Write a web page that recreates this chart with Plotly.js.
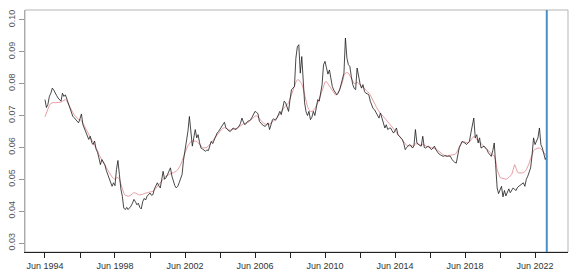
<!DOCTYPE html>
<html>
<head>
<meta charset="utf-8">
<script src="https://cdn.plot.ly/plotly-3.0.1.min.js"></script>
<style>html,body{margin:0;padding:0;background:#fff;}#chart{width:570px;height:280px;}</style>
</head>
<body>
<div id="chart"></div>
<script>
// Monthly series starting Jun 1994
const startYear = 1994;
const startMonth = 6;

const observed = [
0.0750,0.0725,0.0735,0.0760,0.0770,0.0786,0.0780,0.0768,0.0762,0.0755,0.0750,0.0745,
0.0770,0.0760,0.0765,0.0750,0.0740,0.0722,0.0710,0.0698,0.0693,0.0688,0.0684,0.0677,
0.0690,0.0705,0.0671,0.0660,0.0648,0.0640,0.0625,0.0635,0.0615,0.0609,0.0620,0.0595,
0.0585,0.0567,0.0546,0.0562,0.0555,0.0546,0.0528,0.0515,0.0505,0.0494,0.0478,0.0489,
0.0480,0.0530,0.0559,0.0515,0.0470,0.0447,0.0410,0.0405,0.0412,0.0405,0.0410,0.0416,
0.0425,0.0437,0.0430,0.0420,0.0425,0.0412,0.0407,0.0430,0.0440,0.0435,0.0447,0.0452,
0.0457,0.0450,0.0452,0.0470,0.0482,0.0489,0.0480,0.0473,0.0500,0.0525,0.0500,0.0505,
0.0515,0.0525,0.0536,0.0510,0.0494,0.0480,0.0473,0.0478,0.0490,0.0500,0.0515,0.0560,
0.0588,0.0624,0.0650,0.0697,0.0640,0.0604,0.0630,0.0656,0.0630,0.0640,0.0615,0.0598,
0.0595,0.0590,0.0588,0.0592,0.0590,0.0605,0.0619,0.0612,0.0625,0.0635,0.0645,0.0650,
0.0658,0.0666,0.0672,0.0679,0.0662,0.0656,0.0652,0.0650,0.0655,0.0661,0.0658,0.0656,
0.0662,0.0666,0.0675,0.0692,0.0680,0.0671,0.0676,0.0682,0.0684,0.0687,0.0695,0.0705,
0.0713,0.0710,0.0706,0.0682,0.0676,0.0671,0.0668,0.0666,0.0672,0.0677,0.0656,0.0670,
0.0687,0.0690,0.0685,0.0692,0.0705,0.0713,0.0703,0.0729,0.0745,0.0740,0.0725,0.0713,
0.0750,0.0781,0.0786,0.0791,0.0880,0.0916,0.0922,0.0833,0.0885,0.0810,0.0740,0.0712,
0.0700,0.0713,0.0687,0.0695,0.0713,0.0700,0.0729,0.0750,0.0745,0.0770,0.0797,0.0859,
0.0870,0.0850,0.0830,0.0843,0.0812,0.0791,0.0780,0.0770,0.0765,0.0770,0.0780,0.0797,
0.0815,0.0833,0.0943,0.0880,0.0860,0.0854,0.0823,0.0797,0.0785,0.0781,0.0849,0.0817,
0.0800,0.0786,0.0797,0.0776,0.0770,0.0768,0.0765,0.0745,0.0729,0.0722,0.0718,0.0710,
0.0700,0.0692,0.0708,0.0690,0.0677,0.0661,0.0671,0.0656,0.0660,0.0661,0.0652,0.0645,
0.0652,0.0661,0.0640,0.0635,0.0630,0.0625,0.0612,0.0593,0.0600,0.0604,0.0609,0.0605,
0.0598,0.0605,0.0656,0.0614,0.0609,0.0606,0.0604,0.0635,0.0600,0.0598,0.0602,0.0604,
0.0598,0.0593,0.0598,0.0604,0.0593,0.0585,0.0580,0.0577,0.0575,0.0572,0.0574,0.0572,
0.0572,0.0573,0.0572,0.0562,0.0556,0.0553,0.0551,0.0577,0.0600,0.0609,0.0619,0.0616,
0.0614,0.0609,0.0615,0.0619,0.0645,0.0670,0.0692,0.0630,0.0640,0.0614,0.0630,0.0598,
0.0602,0.0604,0.0598,0.0593,0.0583,0.0578,0.0572,0.0590,0.0614,0.0546,0.0473,0.0455,
0.0465,0.0478,0.0445,0.0465,0.0448,0.0460,0.0470,0.0458,0.0465,0.0473,0.0468,0.0465,
0.0475,0.0478,0.0483,0.0486,0.0489,0.0478,0.0500,0.0510,0.0522,0.0536,0.0577,0.0630,
0.0609,0.0620,0.0630,0.0661,0.0609,0.0598,0.0580,0.0562,0.0572
];

const smoothed = [
0.0696,0.0710,0.0722,0.0732,0.0738,0.0740,0.0741,0.0740,0.0740,0.0740,0.0740,0.0742,
0.0745,0.0748,0.0750,0.0745,0.0735,0.0725,0.0718,0.0710,0.0702,0.0697,0.0692,0.0688,
0.0687,0.0684,0.0676,0.0666,0.0656,0.0647,0.0638,0.0632,0.0624,0.0616,0.0610,0.0600,
0.0590,0.0578,0.0568,0.0560,0.0552,0.0544,0.0536,0.0528,0.0520,0.0513,0.0507,0.0503,
0.0500,0.0504,0.0506,0.0500,0.0485,0.0468,0.0457,0.0450,0.0447,0.0447,0.0448,0.0452,
0.0456,0.0458,0.0457,0.0454,0.0452,0.0451,0.0451,0.0453,0.0455,0.0457,0.0458,0.0459,
0.0460,0.0461,0.0462,0.0466,0.0472,0.0478,0.0484,0.0489,0.0495,0.0502,0.0506,0.0510,
0.0513,0.0516,0.0519,0.0520,0.0520,0.0522,0.0526,0.0530,0.0536,0.0545,0.0558,0.0572,
0.0583,0.0595,0.0605,0.0614,0.0618,0.0620,0.0621,0.0620,0.0619,0.0614,0.0608,0.0603,
0.0600,0.0598,0.0598,0.0600,0.0604,0.0610,0.0617,0.0623,0.0628,0.0633,0.0638,0.0644,
0.0650,0.0656,0.0660,0.0662,0.0660,0.0657,0.0655,0.0654,0.0655,0.0657,0.0658,0.0659,
0.0661,0.0664,0.0668,0.0672,0.0674,0.0675,0.0676,0.0678,0.0681,0.0685,0.0689,0.0694,
0.0698,0.0699,0.0696,0.0690,0.0684,0.0679,0.0675,0.0673,0.0672,0.0672,0.0673,0.0676,
0.0680,0.0684,0.0688,0.0693,0.0698,0.0704,0.0710,0.0718,0.0726,0.0731,0.0734,0.0740,
0.0752,0.0766,0.0778,0.0790,0.0805,0.0812,0.0812,0.0805,0.0800,0.0785,0.0765,0.0745,
0.0728,0.0718,0.0713,0.0713,0.0716,0.0722,0.0729,0.0740,0.0752,0.0765,0.0780,0.0792,
0.0805,0.0807,0.0800,0.0795,0.0790,0.0782,0.0772,0.0765,0.0765,0.0772,0.0782,0.0792,
0.0805,0.0825,0.0833,0.0835,0.0833,0.0825,0.0815,0.0807,0.0800,0.0800,0.0805,0.0802,
0.0795,0.0790,0.0790,0.0786,0.0780,0.0775,0.0770,0.0765,0.0755,0.0745,0.0736,0.0729,
0.0720,0.0712,0.0706,0.0702,0.0697,0.0690,0.0684,0.0680,0.0676,0.0670,0.0664,0.0658,
0.0652,0.0648,0.0643,0.0637,0.0631,0.0625,0.0618,0.0610,0.0606,0.0605,0.0605,0.0604,
0.0603,0.0605,0.0612,0.0612,0.0610,0.0608,0.0607,0.0610,0.0607,0.0604,0.0602,0.0601,
0.0600,0.0598,0.0598,0.0598,0.0596,0.0592,0.0588,0.0584,0.0580,0.0577,0.0575,0.0574,
0.0574,0.0575,0.0576,0.0576,0.0576,0.0578,0.0582,0.0592,0.0602,0.0610,0.0616,0.0618,
0.0617,0.0615,0.0614,0.0617,0.0624,0.0632,0.0635,0.0630,0.0625,0.0620,0.0617,0.0612,
0.0608,0.0604,0.0600,0.0596,0.0591,0.0585,0.0580,0.0576,0.0574,0.0560,0.0530,0.0515,
0.0506,0.0504,0.0502,0.0500,0.0500,0.0502,0.0506,0.0510,0.0515,0.0530,0.0546,0.0535,
0.0522,0.0520,0.0519,0.0520,0.0521,0.0524,0.0530,0.0540,0.0551,0.0565,0.0580,0.0590,
0.0594,0.0597,0.0598,0.0598,0.0596,0.0590,0.0584,0.0578,0.0572
];

const xTickVals = ['1994-06-01','1996-06-01','1998-06-01','2000-06-01','2002-06-01','2004-06-01','2006-06-01','2008-06-01','2010-06-01','2012-06-01','2014-06-01','2016-06-01','2018-06-01','2020-06-01','2022-06-01'];
const xTickText = ['Jun 1994','','Jun 1998','','Jun 2002','','Jun 2006','','Jun 2010','','Jun 2014','','Jun 2018','','Jun 2022'];
const yTickVals = [0.03,0.04,0.05,0.06,0.07,0.08,0.09,0.10];
const yTickText = ['0.03','0.04','0.05','0.06','0.07','0.08','0.09','0.10'];
const cutoffDate = '2023-02-01';

function pad(n){return n<10?'0'+n:''+n;}
const dates = observed.map((_, i) => {
  const t = (startMonth - 1) + i;
  return (startYear + Math.floor(t / 12)) + '-' + pad(t % 12 + 1) + '-01';
});

const traces = [
  {x: dates, y: smoothed, type: 'scatter', mode: 'lines', line: {color: '#e3949b', width: 0.9}, hoverinfo: 'skip'},
  {x: dates, y: observed, type: 'scatter', mode: 'lines', line: {color: '#1a1a1a', width: 0.8}, hoverinfo: 'skip'}
];

const layout = {
  width: 570, height: 280,
  margin: {l: 25, r: 2, t: 10, b: 28},
  paper_bgcolor: '#ffffff', plot_bgcolor: '#ffffff',
  showlegend: false,
  font: {family: 'Liberation Sans, Arial, sans-serif', size: 9, color: '#333'},
  xaxis: {
    type: 'date', range: ['1993-04-10', '2024-04-19'],
    tickmode: 'array', tickvals: xTickVals, ticktext: xTickText,
    ticks: 'outside', ticklen: 5, tickwidth: 1, tickcolor: '#222',
    showline: true, linecolor: '#222', linewidth: 1,
    showgrid: false, zeroline: false,
    tickfont: {size: 9, color: '#333'}
  },
  yaxis: {
    range: [0.0272, 0.1031],
    tickmode: 'array', tickvals: yTickVals, ticktext: yTickText,
    tickangle: -90,
    ticks: 'outside', ticklen: 5, tickwidth: 1, tickcolor: '#999',
    showline: true, linecolor: '#aaa', linewidth: 1,
    showgrid: false, zeroline: false,
    tickfont: {size: 9, color: '#555'}
  },
  shapes: [
    {type: 'rect', xref: 'paper', yref: 'paper', x0: 0, x1: 1, y0: 0, y1: 1, line: {color: '#b5b5b5', width: 1}, layer: 'below'},
    {type: 'line', xref: 'x', yref: 'paper', x0: cutoffDate, x1: cutoffDate, y0: 0, y1: 1, line: {color: '#4a90c8', width: 2}}
  ]
};

Plotly.newPlot('chart', traces, layout, {staticPlot: true, displayModeBar: false});
</script>
</body>
</html>
